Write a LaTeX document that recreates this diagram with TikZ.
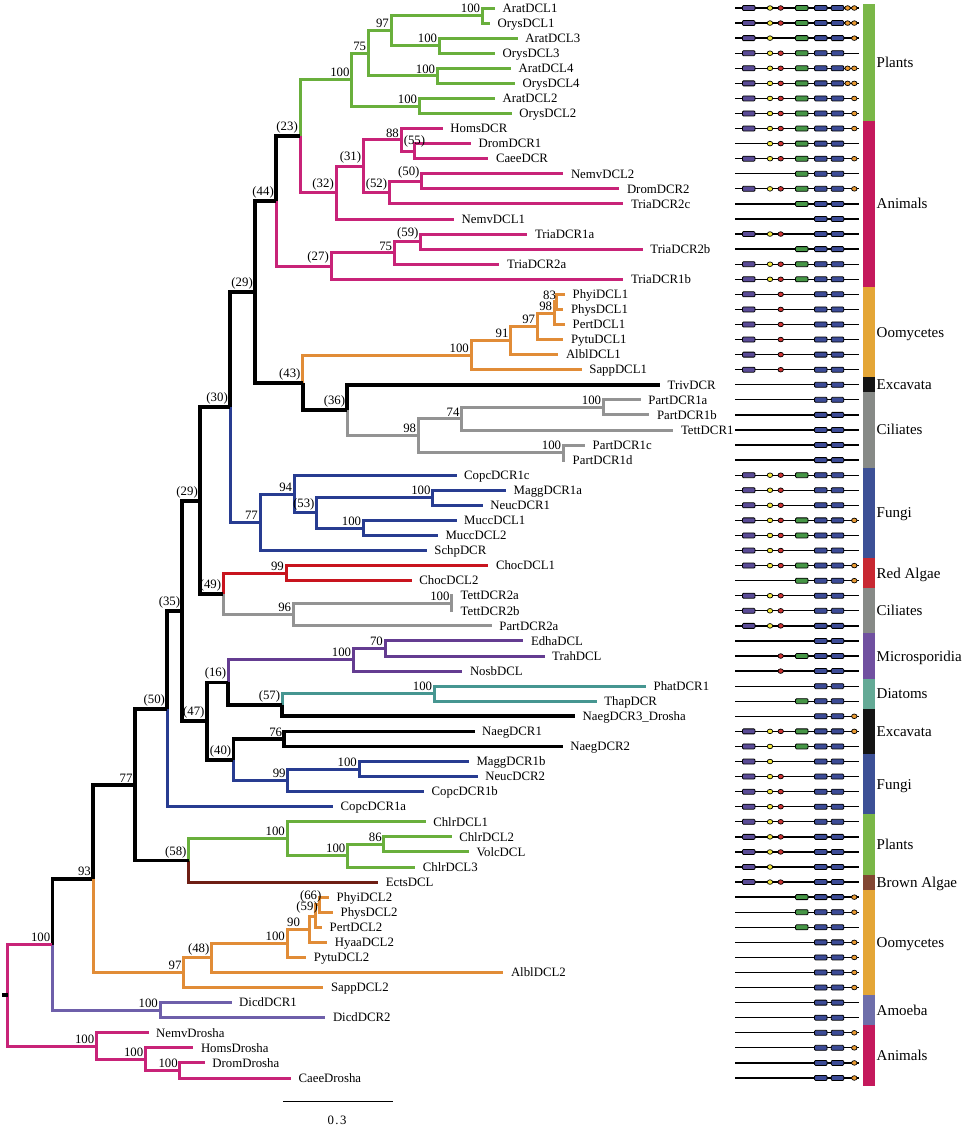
\documentclass[tikz,border=0pt]{standalone}
\usepackage{fontspec}
\setmainfont{Liberation Serif}
\usetikzlibrary{shapes.geometric}

\definecolor{cpl}{HTML}{69AF3C}
\definecolor{can}{HTML}{C82378}
\definecolor{coo}{HTML}{E18C37}
\definecolor{cci}{HTML}{939393}
\definecolor{cfu}{HTML}{283C91}
\definecolor{cra}{HTML}{C8141E}
\definecolor{cmi}{HTML}{643C91}
\definecolor{cdi}{HTML}{469691}
\definecolor{cba}{HTML}{6E1E14}
\definecolor{cam}{HTML}{6E5FAA}
% bar colours
\definecolor{bPl}{HTML}{7AB748}
\definecolor{bAn}{HTML}{C4195C}
\definecolor{bOo}{HTML}{E4A637}
\definecolor{bEx}{HTML}{141414}
\definecolor{bCi}{HTML}{878A87}
\definecolor{bFu}{HTML}{3C5096}
\definecolor{bRa}{HTML}{C82832}
\definecolor{bMi}{HTML}{7050A0}
\definecolor{bDi}{HTML}{64AA96}
\definecolor{bBa}{HTML}{824632}
\definecolor{bAm}{HTML}{6E6EAA}
% domain colours
\definecolor{dPur}{HTML}{5A4B96}
\definecolor{dYel}{HTML}{F5EB3C}
\definecolor{dRed}{HTML}{CD3232}
\definecolor{dGrn}{HTML}{469646}
\definecolor{dBlu}{HTML}{3C4B96}
\definecolor{dOra}{HTML}{EB9B32}

\begin{document}
\begin{tikzpicture}[x=1pt,y=-1pt,
  br/.style={line width=3pt},
  bk/.style={line width=3.8pt,black},
  pl/.style={br,cpl}, an/.style={br,can}, oo/.style={br,coo},
  ci/.style={br,cci}, fu/.style={br,cfu}, ra/.style={br,cra},
  mi/.style={br,cmi}, di/.style={br,cdi}, ba/.style={br,cba}, am/.style={br,cam},
  leaf/.style={anchor=west,inner xsep=7.5pt,inner ysep=0pt,text height=8.5pt,text depth=0pt,font=\fontsize{12.8}{13}\selectfont},
  bs/.style={anchor=south east,inner sep=0pt,xshift=-2pt,yshift=2.5pt,font=\fontsize{12.8}{13}\selectfont},
  grp/.style={anchor=west,inner xsep=2pt,inner ysep=0pt,text height=10pt,text depth=0pt,font=\fontsize{15}{16}\selectfont},
  dline/.style={line width=1.3pt},
  dbox/.style={draw=black,line width=0.8pt,rounded corners=1pt,minimum width=12.5pt,minimum height=5pt,inner sep=0pt},
  dell/.style={ellipse,draw=black,line width=0.7pt,minimum width=5.5pt,minimum height=4.6pt,inner sep=0pt}]
\useasboundingbox (0,0) rectangle (964,1128);

% leaves
\node[leaf] (AratDCL1) at (495,8.0) {AratDCL1};
\node[leaf] (OrysDCL1) at (490,23.1) {OrysDCL1};
\node[leaf] (AratDCL3) at (517.7,38.1) {AratDCL3};
\node[leaf] (OrysDCL3) at (495,53.2) {OrysDCL3};
\node[leaf] (AratDCL4) at (511,68.3) {AratDCL4};
\node[leaf] (OrysDCL4) at (515,83.4) {OrysDCL4};
\node[leaf] (AratDCL2) at (495,98.4) {AratDCL2};
\node[leaf] (OrysDCL2) at (511.7,113.5) {OrysDCL2};
\node[leaf] (HomsDCR) at (442.7,128.6) {HomsDCR};
\node[leaf] (DromDCR1) at (471,143.6) {DromDCR1};
\node[leaf] (CaeeDCR) at (488.3,158.7) {CaeeDCR};
\node[leaf] (NemvDCL2) at (563.3,173.8) {NemvDCL2};
\node[leaf] (DromDCR2) at (619.3,188.8) {DromDCR2};
\node[leaf] (TriaDCR2c) at (623.3,203.9) {TriaDCR2c};
\node[leaf] (NemvDCL1) at (454,219.0) {NemvDCL1};
\node[leaf] (TriaDCR1a) at (527.3,234.1) {TriaDCR1a};
\node[leaf] (TriaDCR2b) at (642.7,249.1) {TriaDCR2b};
\node[leaf] (TriaDCR2a) at (499.3,264.2) {TriaDCR2a};
\node[leaf] (TriaDCR1b) at (623.3,279.3) {TriaDCR1b};
\node[leaf] (PhyiDCL1) at (565,294.3) {PhyiDCL1};
\node[leaf] (PhysDCL1) at (563.3,309.4) {PhysDCL1};
\node[leaf] (PertDCL1) at (565,324.5) {PertDCL1};
\node[leaf] (PytuDCL1) at (563.3,339.5) {PytuDCL1};
\node[leaf] (AlblDCL1) at (558.3,354.6) {AlblDCL1};
\node[leaf] (SappDCL1) at (581.7,369.7) {SappDCL1};
\node[leaf] (TrivDCR) at (660,384.8) {TrivDCR};
\node[leaf] (PartDCR1a) at (640.7,399.8) {PartDCR1a};
\node[leaf] (PartDCR1b) at (649.3,414.9) {PartDCR1b};
\node[leaf] (TettDCR1) at (673.3,430.0) {TettDCR1};
\node[leaf] (PartDCR1c) at (585,445.0) {PartDCR1c};
\node[leaf] (PartDCR1d) at (565,460.1) {PartDCR1d};
\node[leaf] (CopcDCR1c) at (456.5,475.2) {CopcDCR1c};
\node[leaf] (MaggDCR1a) at (506,490.2) {MaggDCR1a};
\node[leaf] (NeucDCR1) at (482.7,505.3) {NeucDCR1};
\node[leaf] (MuccDCL1) at (456.5,520.4) {MuccDCL1};
\node[leaf] (MuccDCL2) at (437.8,535.5) {MuccDCL2};
\node[leaf] (SchpDCR) at (426.7,550.5) {SchpDCR};
\node[leaf] (ChocDCL1) at (488.3,565.6) {ChocDCL1};
\node[leaf] (ChocDCL2) at (411.7,580.7) {ChocDCL2};
\node[leaf] (TettDCR2a) at (453,595.7) {TettDCR2a};
\node[leaf] (TettDCR2b) at (453,610.8) {TettDCR2b};
\node[leaf] (PartDCR2a) at (491.7,625.9) {PartDCR2a};
\node[leaf] (EdhaDCL) at (523.3,640.9) {EdhaDCL};
\node[leaf] (TrahDCL) at (544.5,656.0) {TrahDCL};
\node[leaf] (NosbDCL) at (462.3,671.1) {NosbDCL};
\node[leaf] (PhatDCR1) at (646,686.2) {PhatDCR1};
\node[leaf] (ThapDCR) at (596.7,701.2) {ThapDCR};
\node[leaf] (NaegDCR3D) at (575,716.3) {NaegDCR3\_Drosha};
\node[leaf] (NaegDCR1) at (474.5,731.4) {NaegDCR1};
\node[leaf] (NaegDCR2) at (562.6,746.4) {NaegDCR2};
\node[leaf] (MaggDCR1b) at (468.8,761.5) {MaggDCR1b};
\node[leaf] (NeucDCR2) at (477.6,776.6) {NeucDCR2};
\node[leaf] (CopcDCR1b) at (424,791.6) {CopcDCR1b};
\node[leaf] (CopcDCR1a) at (333,806.7) {CopcDCR1a};
\node[leaf] (ChlrDCL1) at (425.6,821.8) {ChlrDCL1};
\node[leaf] (ChlrDCL2) at (451.6,836.9) {ChlrDCL2};
\node[leaf] (VolcDCL) at (468.8,851.9) {VolcDCL};
\node[leaf] (ChlrDCL3) at (415.2,867.0) {ChlrDCL3};
\node[leaf] (EctsDCL) at (378.1,882.1) {EctsDCL};
\node[leaf] (PhyiDCL2) at (329,897.1) {PhyiDCL2};
\node[leaf] (PhysDCL2) at (333,912.2) {PhysDCL2};
\node[leaf] (PertDCL2) at (322,927.3) {PertDCL2};
\node[leaf] (HyaaDCL2) at (327.2,942.3) {HyaaDCL2};
\node[leaf] (PytuDCL2) at (306.2,957.4) {PytuDCL2};
\node[leaf] (AlblDCL2) at (503.3,972.5) {AlblDCL2};
\node[leaf] (SappDCL2) at (323.4,987.5) {SappDCL2};
\node[leaf] (DicdDCR1) at (231.5,1002.6) {DicdDCR1};
\node[leaf] (DicdDCR2) at (325.3,1017.7) {DicdDCR2};
\node[leaf] (NemvDrosha) at (148.5,1032.8) {NemvDrosha};
\node[leaf] (HomsDrosha) at (193.3,1047.8) {HomsDrosha};
\node[leaf] (DromDrosha) at (204.7,1062.9) {DromDrosha};
\node[leaf] (CaeeDrosha) at (290.9,1078.0) {CaeeDrosha};

% inner nodes
\coordinate (nAO1) at (482.3,15.6);
\coordinate (nAO3) at (439.3,45.7);
\coordinate (n97) at (391,30.6);
\coordinate (nAO4) at (437.3,75.9);
\coordinate (n75) at (368.3,53.3);
\coordinate (nAO2) at (419.3,106.0);
\coordinate (nPl1) at (351.7,79.7);
\coordinate (n55) at (414.3,151.2);
\coordinate (n88) at (401,139.9);
\coordinate (n50a) at (421.7,181.3);
\coordinate (n52) at (389.3,192.6);
\coordinate (n31) at (363.3,166.3);
\coordinate (n32) at (336,192.7);
\coordinate (n23) at (300,136.2);
\coordinate (n59a) at (420.7,241.6);
\coordinate (n75b) at (394.3,252.9);
\coordinate (n27) at (331,266.1);
\coordinate (n44) at (276,201.2);
\coordinate (n83) at (556.7,301.9);
\coordinate (n98o) at (554.3,313.2);
\coordinate (n97o) at (537.3,326.4);
\coordinate (n91) at (510.7,340.5);
\coordinate (n100o) at (471,355.1);
\coordinate (n100p1) at (603.3,407.4);
\coordinate (n74) at (461.7,418.7);
\coordinate (n100p2) at (563.3,452.6);
\coordinate (n98c) at (418.3,435.7);
\coordinate (n36) at (347.3,410.3);
\coordinate (n43) at (302.7,382.7);
\coordinate (n29a) at (255,292.0);
\coordinate (n100m1) at (432.7,497.8);
\coordinate (n100m2) at (363.3,528.0);
\coordinate (n53) at (316.7,512.9);
\coordinate (n94) at (294.3,494.1);
\coordinate (n77f) at (260,522.3);
\coordinate (n30) at (230,407.2);
\coordinate (n99r) at (286,573.2);
\coordinate (n100t) at (451.7,603.3);
\coordinate (n96) at (293.3,614.6);
\coordinate (n49) at (223.3,593.9);
\coordinate (n29b) at (200,500.6);
\coordinate (n70) at (385,648.5);
\coordinate (n100ms) at (353.3,659.8);
\coordinate (n100d) at (434.3,693.7);
\coordinate (n57) at (282.3,705.0);
\coordinate (n16) at (228.3,682.4);
\coordinate (n76) at (284.3,738.9);
\coordinate (n100g) at (359,769.1);
\coordinate (n99g) at (287.8,780.4);
\coordinate (n40) at (233.4,759.7);
\coordinate (n47) at (206.7,721.1);
\coordinate (n35) at (182.3,610.9);
\coordinate (n50) at (167.2,708.8);
\coordinate (n86) at (383.9,844.4);
\coordinate (n100c2) at (347.5,855.7);
\coordinate (n100c1) at (287,838.8);
\coordinate (n58) at (188.7,860.5);
\coordinate (n77) at (134.7,784.7);
\coordinate (n66) at (319.6,904.7);
\coordinate (n59o) at (315,916.0);
\coordinate (n90) at (309.2,929.2);
\coordinate (n100o2) at (287,943.3);
\coordinate (n48) at (211.6,957.9);
\coordinate (n97o2) at (183.7,972.7);
\coordinate (n93) at (93,878.7);
\coordinate (n100am) at (160,1010.2);
\coordinate (n100a) at (52.4,944.5);
\coordinate (n100dd) at (179.9,1070.5);
\coordinate (n100hd) at (145.4,1059.2);
\coordinate (n100nd) at (96.4,1046.0);
\coordinate (root) at (7.7,995.3);
\coordinate (stub) at (2,995.3);

% branches
\draw[pl] (nAO1) |- (AratDCL1.west) (nAO1) |- (OrysDCL1.west)
  (nAO3) |- (AratDCL3.west) (nAO3) |- (OrysDCL3.west)
  (n97) |- (nAO1) (n97) |- (nAO3)
  (nAO4) |- (AratDCL4.west) (nAO4) |- (OrysDCL4.west)
  (n75) |- (n97) (n75) |- (nAO4)
  (nAO2) |- (AratDCL2.west) (nAO2) |- (OrysDCL2.west)
  (nPl1) |- (n75) (nPl1) |- (nAO2)
  (n23) |- (nPl1);
\draw[an] (n55) |- (DromDCR1.west) (n55) |- (CaeeDCR.west)
  (n88) |- (HomsDCR.west) (n88) |- (n55)
  (n50a) |- (NemvDCL2.west) (n50a) |- (DromDCR2.west)
  (n52) |- (n50a) (n52) |- (TriaDCR2c.west)
  (n31) |- (n88) (n31) |- (n52)
  (n32) |- (n31) (n32) |- (NemvDCL1.west)
  (n23) |- (n32);
\draw[an] (n59a) |- (TriaDCR1a.west) (n59a) |- (TriaDCR2b.west)
  (n75b) |- (n59a) (n75b) |- (TriaDCR2a.west)
  (n27) |- (n75b) (n27) |- (TriaDCR1b.west)
  (n44) |- (n27);
\draw[bk] (n44) |- (n23);
\draw[oo] (n83) |- (PhyiDCL1.west) (n83) |- (PhysDCL1.west)
  (n98o) |- (n83) (n98o) |- (PertDCL1.west)
  (n97o) |- (n98o) (n97o) |- (PytuDCL1.west)
  (n91) |- (n97o) (n91) |- (AlblDCL1.west)
  (n100o) |- (n91) (n100o) |- (SappDCL1.west)
  (n43) |- (n100o);
\draw[ci] (n100p1) |- (PartDCR1a.west) (n100p1) |- (PartDCR1b.west)
  (n74) |- (n100p1) (n74) |- (TettDCR1.west)
  (n100p2) |- (PartDCR1c.west) (n100p2) |- (PartDCR1d.west)
  (n98c) |- (n74) (n98c) |- (n100p2)
  (n36) |- (n98c);
\draw[bk] (n36) |- (TrivDCR.west) (n43) |- (n36)
  (n29a) |- (n44) (n29a) |- (n43) (n30) |- (n29a);
\draw[fu] (n100m1) |- (MaggDCR1a.west) (n100m1) |- (NeucDCR1.west)
  (n100m2) |- (MuccDCL1.west) (n100m2) |- (MuccDCL2.west)
  (n53) |- (n100m1) (n53) |- (n100m2)
  (n94) |- (CopcDCR1c.west) (n94) |- (n53)
  (n77f) |- (n94) (n77f) |- (SchpDCR.west)
  (n30) |- (n77f);
\draw[ra] (n99r) |- (ChocDCL1.west) (n99r) |- (ChocDCL2.west) (n49) |- (n99r);
\draw[ci] (n100t) |- (TettDCR2a.west) (n100t) |- (TettDCR2b.west)
  (n96) |- (n100t) (n96) |- (PartDCR2a.west)
  (n49) |- (n96);
\draw[bk] (n29b) |- (n30) (n29b) |- (n49);
\draw[mi] (n70) |- (EdhaDCL.west) (n70) |- (TrahDCL.west)
  (n100ms) |- (n70) (n100ms) |- (NosbDCL.west)
  (n16) |- (n100ms);
\draw[di] (n100d) |- (PhatDCR1.west) (n100d) |- (ThapDCR.west) (n57) |- (n100d);
\draw[bk] (n57) |- (NaegDCR3D.west) (n16) |- (n57)
  (n76) |- (NaegDCR1.west) (n76) |- (NaegDCR2.west) (n40) |- (n76);
\draw[fu] (n100g) |- (MaggDCR1b.west) (n100g) |- (NeucDCR2.west)
  (n99g) |- (n100g) (n99g) |- (CopcDCR1b.west)
  (n40) |- (n99g) (n50) |- (CopcDCR1a.west);
\draw[bk] (n47) |- (n16) (n47) |- (n40)
  (n35) |- (n29b) (n35) |- (n47)
  (n50) |- (n35);
\draw[pl] (n86) |- (ChlrDCL2.west) (n86) |- (VolcDCL.west)
  (n100c2) |- (n86) (n100c2) |- (ChlrDCL3.west)
  (n100c1) |- (ChlrDCL1.west) (n100c1) |- (n100c2)
  (n58) |- (n100c1);
\draw[ba] (n58) |- (EctsDCL.west);
\draw[bk] (n77) |- (n50) (n77) |- (n58) (n93) |- (n77) (n100a) |- (n93);
\draw[oo] (n66) |- (PhyiDCL2.west) (n66) |- (PhysDCL2.west)
  (n59o) |- (n66) (n59o) |- (PertDCL2.west)
  (n90) |- (n59o) (n90) |- (HyaaDCL2.west)
  (n100o2) |- (n90) (n100o2) |- (PytuDCL2.west)
  (n48) |- (n100o2) (n48) |- (AlblDCL2.west)
  (n97o2) |- (n48) (n97o2) |- (SappDCL2.west)
  (n93) |- (n97o2);
\draw[am] (n100am) |- (DicdDCR1.west) (n100am) |- (DicdDCR2.west) (n100a) |- (n100am);
\draw[an] (n100dd) |- (DromDrosha.west) (n100dd) |- (CaeeDrosha.west)
  (n100hd) |- (HomsDrosha.west) (n100hd) |- (n100dd)
  (n100nd) |- (NemvDrosha.west) (n100nd) |- (n100hd)
  (root) |- (n100a) (root) |- (n100nd);
\draw[bk] (stub) -- (root);

% support values
\node[bs] (s1) at (nAO1) {100};
\node[bs] (s2) at (nAO3) {100};
\node[bs] (s3) at (n97) {97};
\node[bs] (s4) at (nAO4) {100};
\node[bs] (s5) at (n75) {75};
\node[bs] (s6) at (nAO2) {100};
\node[bs] (s7) at (nPl1) {100};
\node[bs,xshift=13pt,yshift=1.5pt] (s8) at (n55) {(55)};
\node[bs] (s9) at (n88) {88};
\node[bs] (s10) at (n50a) {(50)};
\node[bs] (s11) at (n52) {(52)};
\node[bs] (s12) at (n31) {(31)};
\node[bs] (s13) at (n32) {(32)};
\node[bs] (s14) at (n23) {(23)};
\node[bs] (s15) at (n59a) {(59)};
\node[bs] (s16) at (n75b) {75};
\node[bs] (s17) at (n27) {(27)};
\node[bs] (s18) at (n44) {(44)};
\node[bs,xshift=1.5pt] (s19) at (n83) {83};
\node[bs] (s20) at (n98o) {98};
\node[bs] (s21) at (n97o) {97};
\node[bs] (s22) at (n91) {91};
\node[bs] (s23) at (n100o) {100};
\node[bs] (s24) at (n100p1) {100};
\node[bs] (s25) at (n74) {74};
\node[bs] (s26) at (n100p2) {100};
\node[bs] (s27) at (n98c) {98};
\node[bs] (s28) at (n36) {(36)};
\node[bs] (s29) at (n43) {(43)};
\node[bs] (s30) at (n29a) {(29)};
\node[bs] (s31) at (n100m1) {100};
\node[bs] (s32) at (n100m2) {100};
\node[bs] (s33) at (n53) {(53)};
\node[bs] (s34) at (n94) {94};
\node[bs] (s35) at (n77f) {77};
\node[bs] (s36) at (n30) {(30)};
\node[bs] (s37) at (n99r) {99};
\node[bs] (s38) at (n100t) {100};
\node[bs] (s39) at (n96) {96};
\node[bs] (s40) at (n49) {(49)};
\node[bs] (s41) at (n29b) {(29)};
\node[bs] (s42) at (n70) {70};
\node[bs] (s43) at (n100ms) {100};
\node[bs] (s44) at (n100d) {100};
\node[bs] (s45) at (n57) {(57)};
\node[bs] (s46) at (n16) {(16)};
\node[bs] (s47) at (n76) {76};
\node[bs] (s48) at (n100g) {100};
\node[bs] (s49) at (n99g) {99};
\node[bs] (s50) at (n40) {(40)};
\node[bs] (s51) at (n47) {(47)};
\node[bs] (s52) at (n35) {(35)};
\node[bs] (s53) at (n50) {(50)};
\node[bs] (s54) at (n86) {86};
\node[bs] (s55) at (n100c2) {100};
\node[bs] (s56) at (n100c1) {100};
\node[bs] (s57) at (n58) {(58)};
\node[bs] (s58) at (n77) {77};
\node[bs,xshift=4pt] (s59) at (n66) {(66)};
\node[bs,xshift=5pt] (s60) at (n59o) {(59)};
\node[bs,xshift=-7pt] (s61) at (n90) {90};
\node[bs] (s62) at (n100o2) {100};
\node[bs] (s63) at (n48) {(48)};
\node[bs] (s64) at (n97o2) {97};
\node[bs] (s65) at (n93) {93};
\node[bs] (s66) at (n100am) {100};
\node[bs] (s67) at (n100a) {100};
\node[bs] (s68) at (n100nd) {100};
\node[bs] (s69) at (n100hd) {100};
\node[bs] (s70) at (n100dd) {100};

% scale bar
\coordinate (sbl) at (283.2,1101.7);
\coordinate (sbr) at (393.4,1101.7);
\draw[line width=1.3pt] (sbl) -- (sbr);
\node[font=\fontsize{12.8}{13}\selectfont] (sblab) at (337,1120) {0\kern1.5pt.\kern1.5pt3};

% domain architectures
\foreach \r in {1,...,72}
  \draw[dline] (735,{8+15.07*(\r-1)}) -- (859.3,{8+15.07*(\r-1)});
\foreach \r in {1,2,3,4,5,6,7,8,9,11,13,16,18,19,20,21,22,23,24,25,32,33,34,35,36,37,38,40,41,42,49,50,51,52,53,54,55,56,57,58,59}
  \node[dbox,fill=dPur] (dp\r) at (748.7,{8+15.07*(\r-1)}) {};
\foreach \r in {1,2,3,4,5,6,7,8,9,10,11,13,16,18,19,32,33,34,35,36,37,38,40,41,42,49,50,51,52,53,54,55,56,57,58,59}
  \node[dell,fill=dYel] (dy\r) at (770,{8+15.07*(\r-1)}) {};
\foreach \r in {1,2,4,5,6,7,8,9,10,11,13,16,18,19,20,21,22,23,24,25,32,33,34,35,36,37,38,40,41,42,44,45,49,52,53,54,55,56,57,59}
  \node[dell,fill=dRed] (dr\r) at (780.7,{8+15.07*(\r-1)}) {};
\foreach \r in {1,2,3,4,5,6,7,8,9,10,11,12,13,14,17,18,19,32,35,36,38,39,44,47,49,50,60,61,62}
  \node[dbox,fill=dGrn] (dg\r) at (801.8,{8+15.07*(\r-1)}) {};
\foreach \r in {1,...,72}{
  \node[dbox,fill=dBlu] (db\r) at (820.8,{8+15.07*(\r-1)}) {};
  \node[dbox,fill=dBlu] (dc\r) at (837.5,{8+15.07*(\r-1)}) {};
}
\foreach \r in {1,2,5,6}
  \node[dell,fill=dOra] (de\r) at (847.6,{8+15.07*(\r-1)}) {};
\foreach \r in {1,2,3,5,6,7,8,9,11,13,35,38,39,48,49,60,61,63,64,65,66,69,70,71,72}
  \node[dell,fill=dOra] (do\r) at (854.3,{8+15.07*(\r-1)}) {};

% group bars
\foreach \ya/\yb/\c/\t [count=\k] in {4/121.0/bPl/Plants, 121.0/286.8/bAn/Animals,
  286.8/377.2/bOo/Oomycetes, 377.2/392.3/bEx/Excavata, 392.3/467.6/bCi/Ciliates,
  467.6/558.1/bFu/Fungi, 558.1/588.2/bRa/Red Algae, 588.2/633.4/bCi/Ciliates,
  633.4/678.6/bMi/Microsporidia, 678.6/708.8/bDi/Diatoms, 708.8/754.0/bEx/Excavata,
  754.0/814.2/bFu/Fungi, 814.2/874.5/bPl/Plants, 874.5/889.5/bBa/Brown Algae,
  889.5/995.1/bOo/Oomycetes, 995.1/1025.3/bAm/Amoeba, 1025.3/1085.5/bAn/Animals}{
  \fill[\c] (862.7,\ya) rectangle (874.5,\yb);
  \node[grp] (grp\k) at (874.5,{(\ya+\yb)/2}) {\t};
}
\end{tikzpicture}
\end{document}
